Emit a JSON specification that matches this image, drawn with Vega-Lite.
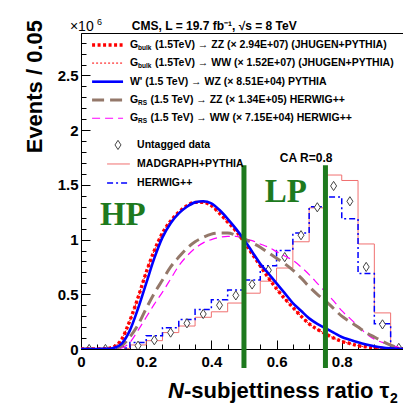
{
  "$schema": "https://vega.github.io/schema/vega-lite/v6.json",
  "width": 323,
  "height": 316,
  "autosize": "none",
  "padding": {"left": 81, "top": 33, "right": 0, "bottom": 63},
  "background": "white",
  "data": {"values": [{}]},
  "config": {
    "font": "Liberation Sans",
    "view": {"stroke": "black", "strokeWidth": 1},
    "text": {"font": "Liberation Sans", "fontWeight": "bold", "fontSize": 10.5, "align": "left", "baseline": "middle", "color": "black"}
  },
  "datasets": {
    "curves": [
      {"tau21": 0.0, "GbulkZZ": 0, "GbulkWW": 0, "WprimeWZ": 0, "GrsZZ": 0, "GrsWW": 0},
      {"tau21": 0.025, "GbulkZZ": 0, "GbulkWW": 0, "WprimeWZ": 0, "GrsZZ": 0, "GrsWW": 0},
      {"tau21": 0.05, "GbulkZZ": 0, "GbulkWW": 0, "WprimeWZ": 0, "GrsZZ": 0, "GrsWW": 0},
      {"tau21": 0.075, "GbulkZZ": 0.002, "GbulkWW": 0.002, "WprimeWZ": 0.001, "GrsZZ": 0, "GrsWW": 0},
      {"tau21": 0.1, "GbulkZZ": 0.02, "GbulkWW": 0.02, "WprimeWZ": 0.01, "GrsZZ": 0.004, "GrsWW": 0.0},
      {"tau21": 0.125, "GbulkZZ": 0.09, "GbulkWW": 0.09, "WprimeWZ": 0.05, "GrsZZ": 0.03, "GrsWW": 0.01},
      {"tau21": 0.15, "GbulkZZ": 0.26, "GbulkWW": 0.26, "WprimeWZ": 0.17, "GrsZZ": 0.11, "GrsWW": 0.06},
      {"tau21": 0.175, "GbulkZZ": 0.47, "GbulkWW": 0.47, "WprimeWZ": 0.37, "GrsZZ": 0.22, "GrsWW": 0.17},
      {"tau21": 0.2, "GbulkZZ": 0.7, "GbulkWW": 0.7, "WprimeWZ": 0.6, "GrsZZ": 0.37, "GrsWW": 0.29},
      {"tau21": 0.225, "GbulkZZ": 0.9, "GbulkWW": 0.9, "WprimeWZ": 0.83, "GrsZZ": 0.51, "GrsWW": 0.41},
      {"tau21": 0.25, "GbulkZZ": 1.06, "GbulkWW": 1.06, "WprimeWZ": 1.02, "GrsZZ": 0.63, "GrsWW": 0.52},
      {"tau21": 0.275, "GbulkZZ": 1.17, "GbulkWW": 1.17, "WprimeWZ": 1.15, "GrsZZ": 0.75, "GrsWW": 0.64},
      {"tau21": 0.3, "GbulkZZ": 1.25, "GbulkWW": 1.25, "WprimeWZ": 1.24, "GrsZZ": 0.84, "GrsWW": 0.76},
      {"tau21": 0.325, "GbulkZZ": 1.31, "GbulkWW": 1.31, "WprimeWZ": 1.3, "GrsZZ": 0.92, "GrsWW": 0.85},
      {"tau21": 0.35, "GbulkZZ": 1.34, "GbulkWW": 1.34, "WprimeWZ": 1.34, "GrsZZ": 0.98, "GrsWW": 0.92},
      {"tau21": 0.375, "GbulkZZ": 1.34, "GbulkWW": 1.34, "WprimeWZ": 1.35, "GrsZZ": 1.02, "GrsWW": 0.97},
      {"tau21": 0.4, "GbulkZZ": 1.31, "GbulkWW": 1.31, "WprimeWZ": 1.33, "GrsZZ": 1.05, "GrsWW": 1.0},
      {"tau21": 0.425, "GbulkZZ": 1.24, "GbulkWW": 1.24, "WprimeWZ": 1.27, "GrsZZ": 1.06, "GrsWW": 1.02},
      {"tau21": 0.45, "GbulkZZ": 1.16, "GbulkWW": 1.16, "WprimeWZ": 1.19, "GrsZZ": 1.06, "GrsWW": 1.03},
      {"tau21": 0.475, "GbulkZZ": 1.08, "GbulkWW": 1.08, "WprimeWZ": 1.1, "GrsZZ": 1.04, "GrsWW": 1.03},
      {"tau21": 0.5, "GbulkZZ": 0.98, "GbulkWW": 0.98, "WprimeWZ": 1.0, "GrsZZ": 1.01, "GrsWW": 1.01},
      {"tau21": 0.525, "GbulkZZ": 0.87, "GbulkWW": 0.87, "WprimeWZ": 0.89, "GrsZZ": 0.97, "GrsWW": 0.99},
      {"tau21": 0.55, "GbulkZZ": 0.76, "GbulkWW": 0.76, "WprimeWZ": 0.78, "GrsZZ": 0.93, "GrsWW": 0.96},
      {"tau21": 0.575, "GbulkZZ": 0.65, "GbulkWW": 0.65, "WprimeWZ": 0.69, "GrsZZ": 0.88, "GrsWW": 0.93},
      {"tau21": 0.6, "GbulkZZ": 0.55, "GbulkWW": 0.55, "WprimeWZ": 0.6, "GrsZZ": 0.83, "GrsWW": 0.89},
      {"tau21": 0.625, "GbulkZZ": 0.46, "GbulkWW": 0.46, "WprimeWZ": 0.51, "GrsZZ": 0.78, "GrsWW": 0.85},
      {"tau21": 0.65, "GbulkZZ": 0.38, "GbulkWW": 0.38, "WprimeWZ": 0.42, "GrsZZ": 0.72, "GrsWW": 0.81},
      {"tau21": 0.675, "GbulkZZ": 0.3, "GbulkWW": 0.3, "WprimeWZ": 0.35, "GrsZZ": 0.65, "GrsWW": 0.75},
      {"tau21": 0.7, "GbulkZZ": 0.23, "GbulkWW": 0.23, "WprimeWZ": 0.28, "GrsZZ": 0.57, "GrsWW": 0.68},
      {"tau21": 0.725, "GbulkZZ": 0.18, "GbulkWW": 0.18, "WprimeWZ": 0.23, "GrsZZ": 0.5, "GrsWW": 0.6},
      {"tau21": 0.75, "GbulkZZ": 0.14, "GbulkWW": 0.14, "WprimeWZ": 0.19, "GrsZZ": 0.44, "GrsWW": 0.52},
      {"tau21": 0.775, "GbulkZZ": 0.1, "GbulkWW": 0.1, "WprimeWZ": 0.15, "GrsZZ": 0.37, "GrsWW": 0.44},
      {"tau21": 0.8, "GbulkZZ": 0.07, "GbulkWW": 0.07, "WprimeWZ": 0.11, "GrsZZ": 0.3, "GrsWW": 0.35},
      {"tau21": 0.825, "GbulkZZ": 0.05, "GbulkWW": 0.05, "WprimeWZ": 0.085, "GrsZZ": 0.25, "GrsWW": 0.28},
      {"tau21": 0.85, "GbulkZZ": 0.03, "GbulkWW": 0.03, "WprimeWZ": 0.062, "GrsZZ": 0.2, "GrsWW": 0.21},
      {"tau21": 0.875, "GbulkZZ": 0.02, "GbulkWW": 0.02, "WprimeWZ": 0.042, "GrsZZ": 0.15, "GrsWW": 0.14},
      {"tau21": 0.9, "GbulkZZ": 0.01, "GbulkWW": 0.01, "WprimeWZ": 0.025, "GrsZZ": 0.11, "GrsWW": 0.09},
      {"tau21": 0.925, "GbulkZZ": 0.005, "GbulkWW": 0.005, "WprimeWZ": 0.013, "GrsZZ": 0.07, "GrsWW": 0.06},
      {"tau21": 0.95, "GbulkZZ": 0.002, "GbulkWW": 0.002, "WprimeWZ": 0.006, "GrsZZ": 0.035, "GrsWW": 0.035},
      {"tau21": 0.975, "GbulkZZ": 0.0, "GbulkWW": 0.0, "WprimeWZ": 0.002, "GrsZZ": 0.01, "GrsWW": 0.015},
      {"tau21": 1.0, "GbulkZZ": 0, "GbulkWW": 0, "WprimeWZ": 0, "GrsZZ": 0, "GrsWW": 0}
    ],
    "bins": [
      {"tau21": 0.025, "data": 0.0, "madgraph": 0.0, "herwig": 0.0},
      {"tau21": 0.075, "data": 0.0, "madgraph": 0.0, "herwig": 0.0},
      {"tau21": 0.125, "data": 0.005, "madgraph": 0.005, "herwig": 0.01},
      {"tau21": 0.175, "data": 0.03, "madgraph": 0.037, "herwig": 0.06},
      {"tau21": 0.225, "data": 0.08, "madgraph": 0.076, "herwig": 0.12},
      {"tau21": 0.275, "data": 0.15, "madgraph": 0.15, "herwig": 0.195},
      {"tau21": 0.325, "data": 0.235, "madgraph": 0.21, "herwig": 0.27},
      {"tau21": 0.375, "data": 0.32, "madgraph": 0.29, "herwig": 0.36},
      {"tau21": 0.425, "data": 0.4, "madgraph": 0.34, "herwig": 0.45},
      {"tau21": 0.475, "data": 0.49, "madgraph": 0.42, "herwig": 0.54},
      {"tau21": 0.525, "data": 0.59, "madgraph": 0.51, "herwig": 0.63},
      {"tau21": 0.575, "data": 0.72, "madgraph": 0.62, "herwig": 0.76},
      {"tau21": 0.625, "data": 0.84, "madgraph": 0.74, "herwig": 0.9},
      {"tau21": 0.675, "data": 1.04, "madgraph": 0.98, "herwig": 1.06},
      {"tau21": 0.725, "data": 1.295, "madgraph": 1.29, "herwig": 1.3},
      {"tau21": 0.775, "data": 1.49, "madgraph": 1.59, "herwig": 1.39},
      {"tau21": 0.825, "data": 1.35, "madgraph": 1.54, "herwig": 1.19},
      {"tau21": 0.875, "data": 0.75, "madgraph": 0.96, "herwig": 0.69},
      {"tau21": 0.925, "data": 0.225, "madgraph": 0.33, "herwig": 0.23},
      {"tau21": 0.975, "data": 0.01, "madgraph": 0.02, "herwig": 0.02}
    ],
    "cuts": [{"cut": 0.5}, {"cut": 0.75}]
  },
  "layer": [
    {
      "layer": [
        {
          "data": {"name": "bins"},
          "mark": {"type": "line", "interpolate": "step", "color": "#f07070", "strokeWidth": 1, "clip": true},
          "encoding": {
            "x": {"field": "tau21", "type": "quantitative", "scale": {"domain": [0, 0.991], "nice": false, "zero": false},
              "axis": {"values": [0, 0.2, 0.4, 0.6, 0.8], "format": "~g", "title": null, "tickSize": -9, "tickColor": "black", "domainColor": "black", "labelFontSize": 15, "labelFontWeight": "bold", "labelFont": "Liberation Sans", "labelColor": "black", "labelPadding": 14, "labelFlush": false, "labelOverlap": false, "grid": false}},
            "y": {"field": "madgraph", "type": "quantitative", "scale": {"domain": [0, 2.888], "nice": false, "zero": false},
              "axis": {"values": [0, 0.5, 1, 1.5, 2, 2.5], "format": "~g", "title": null, "tickSize": -9, "tickColor": "black", "domainColor": "black", "labelFontSize": 15, "labelFontWeight": "bold", "labelFont": "Liberation Sans", "labelColor": "black", "labelPadding": 12, "labelFlush": false, "labelOverlap": false, "grid": false}}
          }
        },
        {
          "data": {"name": "bins"},
          "mark": {"type": "line", "interpolate": "step", "color": "#0000ff", "strokeWidth": 1.5, "strokeDash": [6, 3, 2, 3], "clip": true},
          "encoding": {
            "x": {"field": "tau21", "type": "quantitative"},
            "y": {"field": "herwig", "type": "quantitative"}
          }
        },
        {
          "data": {"name": "bins"},
          "mark": {"type": "point", "shape": "M0,-1L0.65,0L0,1L-0.65,0Z", "size": 85, "filled": true, "fill": "white", "stroke": "#444444", "strokeWidth": 1, "opacity": 1, "clip": true},
          "encoding": {
            "x": {"field": "tau21", "type": "quantitative"},
            "y": {"field": "data", "type": "quantitative"}
          }
        },
        {
          "data": {"name": "curves"},
          "mark": {"type": "line", "interpolate": "monotone", "color": "#ff00ff", "strokeWidth": 1.2, "strokeDash": [8, 5], "clip": true},
          "encoding": {"x": {"field": "tau21", "type": "quantitative"}, "y": {"field": "GrsWW", "type": "quantitative"}}
        },
        {
          "data": {"name": "curves"},
          "mark": {"type": "line", "interpolate": "monotone", "color": "#94786a", "strokeWidth": 3, "strokeDash": [12, 6], "clip": true},
          "encoding": {"x": {"field": "tau21", "type": "quantitative"}, "y": {"field": "GrsZZ", "type": "quantitative"}}
        },
        {
          "data": {"name": "curves"},
          "mark": {"type": "line", "interpolate": "monotone", "color": "#ff0000", "strokeWidth": 3.4, "strokeDash": [3, 2.5], "clip": true},
          "encoding": {"x": {"field": "tau21", "type": "quantitative"}, "y": {"field": "GbulkZZ", "type": "quantitative"}}
        },
        {
          "data": {"name": "curves"},
          "mark": {"type": "line", "interpolate": "monotone", "color": "#ff0000", "strokeWidth": 1, "strokeDash": [2, 2], "clip": true},
          "encoding": {"x": {"field": "tau21", "type": "quantitative"}, "y": {"field": "GbulkWW", "type": "quantitative"}}
        },
        {
          "data": {"name": "curves"},
          "mark": {"type": "line", "interpolate": "monotone", "color": "#0000ff", "strokeWidth": 2.6, "clip": true},
          "encoding": {"x": {"field": "tau21", "type": "quantitative"}, "y": {"field": "WprimeWZ", "type": "quantitative"}}
        },
        {
          "data": {"name": "cuts"},
          "mark": {"type": "rule", "color": "#1e7a1e", "strokeWidth": 5, "clip": false},
          "encoding": {"x": {"field": "cut", "type": "quantitative"}, "y": {"datum": 1.68}, "y2": {"datum": -0.174}}
        },
        {"mark": {"type": "text", "font": "Liberation Serif", "fontSize": 33, "color": "#1e7a1e", "baseline": "alphabetic"}, "encoding": {"x": {"datum": 0.058}, "y": {"datum": 1.133}, "text": {"value": "HP"}}},
        {"mark": {"type": "text", "font": "Liberation Serif", "fontSize": 33, "color": "#1e7a1e", "baseline": "alphabetic"}, "encoding": {"x": {"datum": 0.564}, "y": {"datum": 1.344}, "text": {"value": "LP"}}},
        {"mark": {"type": "text", "fontSize": 12, "baseline": "alphabetic"}, "encoding": {"x": {"datum": 0.61}, "y": {"datum": 1.709}, "text": {"value": "CA R=0.8"}}},

        {"mark": {"type": "text", "fontSize": 12, "baseline": "alphabetic", "clip": false}, "encoding": {"x": {"datum": 0.156}, "y": {"datum": 2.916}, "text": {"value": "CMS, L = 19.7 fb⁻¹, √s = 8 TeV"}}},
        {"mark": {"type": "text", "fontSize": 14, "fontWeight": "normal", "baseline": "alphabetic"}, "encoding": {"x": {"datum": -0.034}, "y": {"datum": 2.907}, "text": {"value": "×10"}}},
        {"mark": {"type": "text", "fontSize": 9, "fontWeight": "normal", "baseline": "alphabetic", "dx": 27, "dy": -6}, "encoding": {"x": {"datum": -0.034}, "y": {"datum": 2.907}, "text": {"value": "6"}}},
        {"mark": {"type": "text", "fontSize": 22, "angle": 270, "align": "right", "baseline": "alphabetic"}, "encoding": {"x": {"datum": -0.12}, "y": {"datum": 3.007}, "text": {"value": "Events / 0.05"}}},
        {"mark": {"type": "text", "fontSize": 22, "fontStyle": "italic", "baseline": "alphabetic"}, "encoding": {"x": {"datum": 0.267}, "y": {"datum": -0.448}, "text": {"value": "N"}}},
        {"mark": {"type": "text", "fontSize": 22, "baseline": "alphabetic", "dx": 16}, "encoding": {"x": {"datum": 0.267}, "y": {"datum": -0.448}, "text": {"value": "-subjettiness ratio τ"}}},
        {"mark": {"type": "text", "fontSize": 14, "baseline": "alphabetic", "dx": 222, "dy": 5}, "encoding": {"x": {"datum": 0.267}, "y": {"datum": -0.448}, "text": {"value": "2"}}},

        {"mark": {"type": "rule", "color": "#ff0000", "strokeWidth": 3.4, "strokeDash": [3, 2.5]}, "encoding": {"x": {"datum": 0.034}, "x2": {"datum": 0.129}, "y": {"datum": 2.779}}},
        {"mark": {"type": "text"}, "encoding": {"x": {"datum": 0.15}, "y": {"datum": 2.779}, "text": {"value": "G"}}},
        {"mark": {"type": "text", "fontSize": 6.5, "dx": 8.2, "dy": 3}, "encoding": {"x": {"datum": 0.15}, "y": {"datum": 2.779}, "text": {"value": "bulk"}}},
        {"mark": {"type": "text", "dx": 25}, "encoding": {"x": {"datum": 0.15}, "y": {"datum": 2.779}, "text": {"value": "(1.5TeV) → ZZ (× 2.94E+07) (JHUGEN+PYTHIA)"}}},

        {"mark": {"type": "rule", "color": "#ff0000", "strokeWidth": 1, "strokeDash": [2, 2]}, "encoding": {"x": {"datum": 0.034}, "x2": {"datum": 0.129}, "y": {"datum": 2.613}}},
        {"mark": {"type": "text"}, "encoding": {"x": {"datum": 0.15}, "y": {"datum": 2.613}, "text": {"value": "G"}}},
        {"mark": {"type": "text", "fontSize": 6.5, "dx": 8.2, "dy": 3}, "encoding": {"x": {"datum": 0.15}, "y": {"datum": 2.613}, "text": {"value": "bulk"}}},
        {"mark": {"type": "text", "dx": 25}, "encoding": {"x": {"datum": 0.15}, "y": {"datum": 2.613}, "text": {"value": "(1.5TeV) → WW (× 1.52E+07) (JHUGEN+PYTHIA)"}}},

        {"mark": {"type": "rule", "color": "#0000ff", "strokeWidth": 2.6}, "encoding": {"x": {"datum": 0.034}, "x2": {"datum": 0.129}, "y": {"datum": 2.443}}},
        {"mark": {"type": "text"}, "encoding": {"x": {"datum": 0.15}, "y": {"datum": 2.443}, "text": {"value": "W' (1.5 TeV) → WZ (× 8.51E+04) PYTHIA"}}},

        {"mark": {"type": "rule", "color": "#94786a", "strokeWidth": 3, "strokeDash": [12, 6]}, "encoding": {"x": {"datum": 0.034}, "x2": {"datum": 0.129}, "y": {"datum": 2.276}}},
        {"mark": {"type": "text"}, "encoding": {"x": {"datum": 0.15}, "y": {"datum": 2.276}, "text": {"value": "G"}}},
        {"mark": {"type": "text", "fontSize": 6.5, "dx": 8.2, "dy": 3}, "encoding": {"x": {"datum": 0.15}, "y": {"datum": 2.276}, "text": {"value": "RS"}}},
        {"mark": {"type": "text", "dx": 20.5}, "encoding": {"x": {"datum": 0.15}, "y": {"datum": 2.276}, "text": {"value": "(1.5 TeV) → ZZ (× 1.34E+05) HERWIG++"}}},

        {"mark": {"type": "rule", "color": "#ff00ff", "strokeWidth": 1.2, "strokeDash": [8, 5]}, "encoding": {"x": {"datum": 0.034}, "x2": {"datum": 0.129}, "y": {"datum": 2.109}}},
        {"mark": {"type": "text"}, "encoding": {"x": {"datum": 0.15}, "y": {"datum": 2.109}, "text": {"value": "G"}}},
        {"mark": {"type": "text", "fontSize": 6.5, "dx": 8.2, "dy": 3}, "encoding": {"x": {"datum": 0.15}, "y": {"datum": 2.109}, "text": {"value": "RS"}}},
        {"mark": {"type": "text", "dx": 20.5}, "encoding": {"x": {"datum": 0.15}, "y": {"datum": 2.109}, "text": {"value": "(1.5 TeV) → WW (× 7.15E+04) HERWIG++"}}},

        {"mark": {"type": "point", "shape": "M0,-1L0.65,0L0,1L-0.65,0Z", "size": 85, "filled": true, "fill": "white", "stroke": "#444444", "strokeWidth": 1, "opacity": 1}, "encoding": {"x": {"datum": 0.1135}, "y": {"datum": 1.865}}},
        {"mark": {"type": "text"}, "encoding": {"x": {"datum": 0.172}, "y": {"datum": 1.865}, "text": {"value": "Untagged data"}}},
        {"mark": {"type": "rule", "color": "#f07070", "strokeWidth": 1}, "encoding": {"x": {"datum": 0.08}, "x2": {"datum": 0.15}, "y": {"datum": 1.691}}},
        {"mark": {"type": "text"}, "encoding": {"x": {"datum": 0.172}, "y": {"datum": 1.691}, "text": {"value": "MADGRAPH+PYTHIA"}}},
        {"mark": {"type": "rule", "color": "#0000ff", "strokeWidth": 1.5, "strokeDash": [6, 3, 2, 3]}, "encoding": {"x": {"datum": 0.08}, "x2": {"datum": 0.15}, "y": {"datum": 1.517}}},
        {"mark": {"type": "text"}, "encoding": {"x": {"datum": 0.172}, "y": {"datum": 1.517}, "text": {"value": "HERWIG++"}}}
      ]
    },
    {
      "data": {"name": "cuts"},
      "mark": {"type": "point", "opacity": 0},
      "encoding": {
        "x": {"field": "cut", "type": "quantitative", "axis": {"orient": "bottom", "values": [0, 0.05, 0.1, 0.15, 0.2, 0.25, 0.3, 0.35, 0.4, 0.45, 0.5, 0.55, 0.6, 0.65, 0.7, 0.75, 0.8, 0.85, 0.9, 0.95], "tickSize": -5, "tickColor": "black", "labels": false, "domain": false, "grid": false, "title": null}},
        "y": {"datum": 0, "type": "quantitative", "axis": {"orient": "left", "values": [0, 0.1, 0.2, 0.3, 0.4, 0.5, 0.6, 0.7, 0.8, 0.9, 1, 1.1, 1.2, 1.3, 1.4, 1.5, 1.6, 1.7, 1.8, 1.9, 2, 2.1, 2.2, 2.3, 2.4, 2.5, 2.6, 2.7, 2.8], "tickSize": -5, "tickColor": "black", "labels": false, "domain": false, "grid": false, "title": null}}
      }
    }
  ],
  "resolve": {"axis": {"x": "independent", "y": "independent"}}
}
